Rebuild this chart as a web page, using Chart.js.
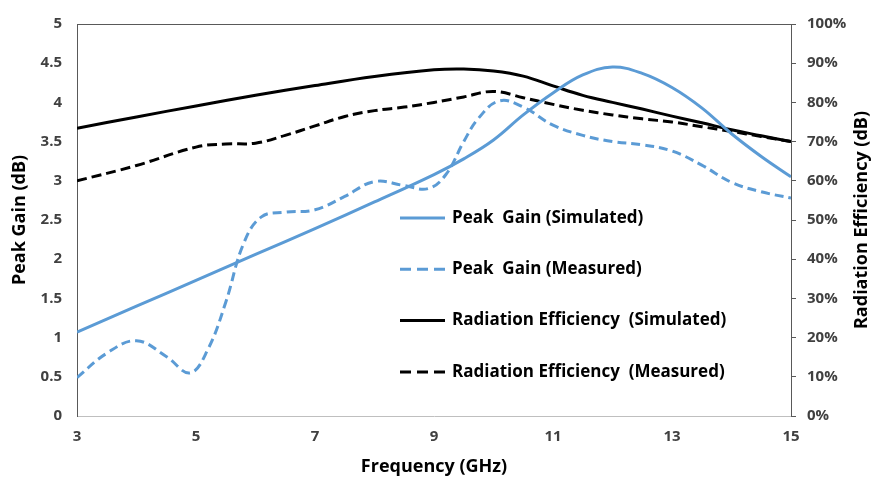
<!DOCTYPE html>
<html>
<head>
<meta charset="utf-8">
<script src="https://cdn.jsdelivr.net/npm/chart.js@4.4.1/dist/chart.umd.min.js"></script>
<style>
  html, body { margin: 0; padding: 0; background: #ffffff; }
  #wrap { width: 875px; height: 482px; position: relative; }
  #chart { display: block; }
</style>
</head>
<body>
<div id="wrap"><canvas id="chart" width="875" height="482"></canvas></div>
<script>
// Axis ticks and labels
const freqTicks = [3, 5, 7, 9, 11, 13, 15];
const gainTicks = [0, 0.5, 1, 1.5, 2, 2.5, 3, 3.5, 4, 4.5, 5];
const gainTickLabels = ['0', '0.5', '1', '1.5', '2', '2.5', '3', '3.5', '4', '4.5', '5'];
const effTicks = [0, 10, 20, 30, 40, 50, 60, 70, 80, 90, 100];
const effTickLabels = ['0%', '10%', '20%', '30%', '40%', '50%', '60%', '70%', '80%', '90%', '100%'];

// Axis titles
const xTitle = 'Frequency (GHz)';
const yLeftTitle = 'Peak Gain (dB)';
const yRightTitle = 'Radiation Efficiency (dB)';

// Series labels
const seriesLabels = [
  'Peak  Gain (Simulated)',
  'Peak  Gain (Measured)',
  'Radiation Efficiency  (Simulated)',
  'Radiation Efficiency  (Measured)'
];

// Peak gain, simulated (dB)
const gainSimFreq = [3, 4, 5, 6, 7, 8, 9, 9.5, 10, 10.5, 11, 11.5, 12, 12.5, 13, 13.5, 14, 14.5, 15];
const gainSim     = [1.07, 1.40, 1.73, 2.06, 2.39, 2.73, 3.08, 3.28, 3.52, 3.84, 4.12, 4.35, 4.45, 4.37, 4.19, 3.93, 3.60, 3.31, 3.05];

// Peak gain, measured (dB)
const gainMeasFreq = [3, 3.5, 4, 4.5, 4.9, 5.2, 5.5, 5.8, 6.1, 6.5, 7, 7.5, 8, 8.5, 8.9, 9.2, 9.5, 9.75, 10.1, 10.5, 11, 11.5, 12, 12.5, 13, 13.5, 14, 14.5, 15];
const gainMeas     = [0.49, 0.80, 0.96, 0.76, 0.55, 0.85, 1.45, 2.20, 2.54, 2.60, 2.63, 2.80, 2.99, 2.94, 2.90, 3.08, 3.50, 3.80, 4.02, 3.94, 3.71, 3.58, 3.50, 3.46, 3.38, 3.20, 2.98, 2.86, 2.78];

// Radiation efficiency, simulated (%)
const effSimFreq = [3, 4, 5, 6, 7, 8, 9, 9.5, 10, 10.5, 11, 11.5, 12, 12.5, 13, 13.5, 14, 14.5, 15];
const effSim     = [73.4, 76.3, 79.1, 81.8, 84.3, 86.6, 88.3, 88.5, 88.0, 86.7, 84.2, 81.8, 80.0, 78.3, 76.5, 74.8, 73.0, 71.5, 70.0];

// Radiation efficiency, measured (%)
const effMeasFreq = [3, 4, 5, 5.5, 6, 6.5, 7, 7.5, 8, 8.5, 9, 9.5, 10, 10.5, 11, 11.5, 12, 12.5, 13, 13.5, 14, 14.5, 15];
const effMeas     = [60.0, 63.9, 68.6, 69.4, 69.6, 71.6, 74.0, 76.4, 77.9, 78.8, 80.0, 81.4, 82.8, 81.2, 79.5, 78.0, 76.8, 75.8, 75.0, 73.8, 72.6, 71.3, 70.0];

const toPoints = (xs, ys) => xs.map((x, i) => ({ x: x, y: ys[i] }));

const BLUE = '#5B9BD5';
const BLACK = '#000000';
const AXIS_DARK = '#595959';
const TICK_COLOR = '#404040';
const FONT_FAMILY = '"Open Sans", Lato, "Liberation Sans", sans-serif';

// Draws the frame top line, axis titles and the in-plot legend
const decorations = {
  id: 'decorations',
  afterDraw(chart) {
    const ctx = chart.ctx;
    const a = chart.chartArea;
    ctx.save();

    // top frame line
    ctx.strokeStyle = AXIS_DARK;
    ctx.lineWidth = 1;
    ctx.beginPath();
    ctx.moveTo(a.left, a.top + 0.5);
    ctx.lineTo(a.right, a.top + 0.5);
    ctx.stroke();

    // axis titles
    ctx.fillStyle = '#000000';
    ctx.font = 'bold 18px ' + FONT_FAMILY;
    ctx.textAlign = 'center';
    ctx.textBaseline = 'middle';
    ctx.fillText(xTitle, (a.left + a.right) / 2, 467);

    ctx.save();
    ctx.translate(20, (a.top + a.bottom) / 2);
    ctx.rotate(-Math.PI / 2);
    ctx.fillText(yLeftTitle, 0, 0);
    ctx.restore();

    ctx.save();
    ctx.translate(862, (a.top + a.bottom) / 2);
    ctx.rotate(-Math.PI / 2);
    ctx.fillText(yRightTitle, 0, 0);
    ctx.restore();

    // legend
    const lx = 400, lineLen = 45, tx = 452, y0 = 218, dy = 51.3;
    chart.data.datasets.forEach((ds, i) => {
      const y = y0 + i * dy;
      ctx.strokeStyle = ds.borderColor;
      ctx.lineWidth = ds.borderWidth;
      ctx.setLineDash(ds.borderDash && ds.borderDash.length ? [11, 6] : []);
      ctx.beginPath();
      ctx.moveTo(lx, y);
      ctx.lineTo(lx + lineLen, y);
      ctx.stroke();
      ctx.setLineDash([]);
      ctx.fillStyle = '#000000';
      ctx.font = 'bold 17px ' + FONT_FAMILY;
      ctx.textAlign = 'left';
      ctx.textBaseline = 'middle';
      ctx.fillText(ds.label, tx, y);
    });

    ctx.restore();
  }
};

const setTicks = (values) => (scale) => {
  scale.ticks = values.map(v => ({ value: v }));
};

new Chart(document.getElementById('chart'), {
  type: 'line',
  data: {
    datasets: [
      {
        label: seriesLabels[0],
        data: toPoints(gainSimFreq, gainSim),
        yAxisID: 'yGain',
        borderColor: BLUE,
        borderWidth: 3,
        borderDash: [],
        pointRadius: 0,
        tension: 0.4,
        fill: false
      },
      {
        label: seriesLabels[1],
        data: toPoints(gainMeasFreq, gainMeas),
        yAxisID: 'yGain',
        borderColor: BLUE,
        borderWidth: 3,
        borderDash: [9, 5],
        pointRadius: 0,
        tension: 0.4,
        fill: false
      },
      {
        label: seriesLabels[2],
        data: toPoints(effSimFreq, effSim),
        yAxisID: 'yEff',
        borderColor: BLACK,
        borderWidth: 3,
        borderDash: [],
        pointRadius: 0,
        tension: 0.4,
        fill: false
      },
      {
        label: seriesLabels[3],
        data: toPoints(effMeasFreq, effMeas),
        yAxisID: 'yEff',
        borderColor: BLACK,
        borderWidth: 3,
        borderDash: [10, 5],
        pointRadius: 0,
        tension: 0.4,
        fill: false
      }
    ]
  },
  options: {
    responsive: false,
    maintainAspectRatio: false,
    animation: false,
    devicePixelRatio: 1,
    layout: { padding: { top: 17, left: 0, right: 0, bottom: 0 } },
    plugins: {
      legend: { display: false },
      tooltip: { enabled: false }
    },
    scales: {
      x: {
        type: 'linear',
        min: 3,
        max: 15,
        afterBuildTicks: setTicks(freqTicks),
        afterFit: (s) => { s.height = 66; },
        grid: { display: false, drawTicks: false },
        border: { display: true, color: '#BFBFBF', width: 1 },
        ticks: {
          padding: 12,
          maxRotation: 0,
          autoSkip: false,
          color: TICK_COLOR,
          font: { family: FONT_FAMILY, size: 15, weight: 'bold' },
          callback: (v) => String(v)
        }
      },
      yGain: {
        type: 'linear',
        position: 'left',
        min: 0,
        max: 5,
        afterBuildTicks: setTicks(gainTicks),
        afterFit: (s) => { s.width = 77; },
        grid: { display: false, drawTicks: false },
        border: { display: true, color: AXIS_DARK, width: 1 },
        ticks: {
          padding: 15,
          autoSkip: false,
          color: TICK_COLOR,
          font: { family: FONT_FAMILY, size: 15, weight: 'bold' },
          callback: (v) => gainTickLabels[gainTicks.indexOf(v)]
        }
      },
      yEff: {
        type: 'linear',
        position: 'right',
        min: 0,
        max: 100,
        afterBuildTicks: setTicks(effTicks),
        afterFit: (s) => { s.width = 84; },
        grid: {
          display: true,
          drawOnChartArea: false,
          drawTicks: true,
          tickLength: 5,
          color: AXIS_DARK
        },
        border: { display: true, color: AXIS_DARK, width: 1 },
        ticks: {
          padding: 11,
          autoSkip: false,
          color: TICK_COLOR,
          font: { family: FONT_FAMILY, size: 15, weight: 'bold' },
          callback: (v) => effTickLabels[effTicks.indexOf(v)]
        }
      }
    }
  },
  plugins: [decorations]
});
</script>
</body>
</html>
